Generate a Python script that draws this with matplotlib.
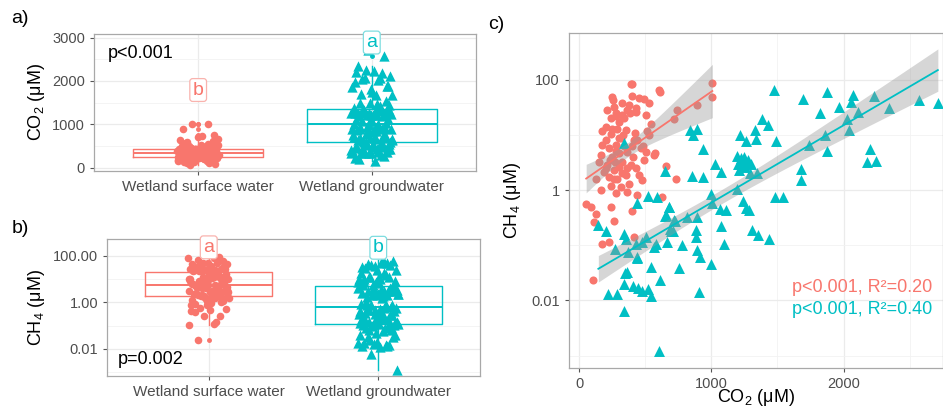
import numpy as np
import matplotlib
matplotlib.use("Agg")
import matplotlib.pyplot as plt
from matplotlib import cbook
from matplotlib.ticker import FixedLocator, NullFormatter

plt.rcParams['font.family'] = ['Liberation Sans', 'DejaVu Sans']
plt.rcParams['mathtext.fontset'] = 'custom'
plt.rcParams['mathtext.rm'] = 'Liberation Sans'
plt.rcParams['mathtext.default'] = 'regular'

RED = '#F8766D'
TEAL = '#00BFC4'

groups = ['Wetland surface water', 'Wetland groundwater']

# wetland surface water samples (CO2 uM, CH4 uM)
sw_co2 = [389, 399, 603, 610, 250, 256, 401, 452, 489, 527, 376, 363, 427, 212, 275, 326,
          742, 717, 893, 1007, 1007,
          654, 735, 565, 477, 439, 628,
          237, 280, 300, 338, 380,
          174, 200, 237, 288, 313, 275, 225, 174, 162, 250, 300, 326, 363, 401, 422, 439,
          464, 502, 490, 212, 263, 300, 351, 288, 225, 187, 237, 313, 376, 427, 452, 389,
          363, 275, 162, 124, 149, 200, 263, 326, 427, 502, 540, 351, 527,
          510, 573, 483, 414, 396, 414,
          52, 86, 238, 124, 111, 263, 174, 225, 104,
          250, 300, 340, 270, 320, 230, 360, 280, 200, 410, 330, 260]
sw_ch4 = [85, 85, 66, 60, 48, 43, 50, 46, 44, 38, 35, 28, 26, 28, 25, 23,
          28, 19, 35, 87, 49,
          2.7, 1.6, 4.3, 1.5, 0.81, 0.76,
          20, 22, 17, 20, 25,
          11.5, 8.1, 10.2, 13, 8.7, 6.5, 5.8, 6.5, 4.3, 4.0, 4.6, 3.2, 4.9, 6.3, 11, 8.1,
          5.8, 4.9, 3.5, 2.8, 2.3, 2.6, 1.9, 1.6, 1.7, 2.1, 1.2, 1.15, 1.3, 2.5, 1.9, 2.8,
          0.93, 0.87, 1.0, 1.6, 3.2, 14, 32, 37, 30, 23, 16, 12, 10,
          11.5, 4.6, 6.2, 8.1, 0.41, 0.14,
          0.56, 0.50, 0.49, 0.37, 0.26, 0.27, 0.105, 0.115, 0.023,
          12.6, 8.9, 6.3, 3.2, 2.0, 3.5, 2.5, 5.0, 2.5, 4.0, 10, 1.6]

# wetland groundwater samples (CO2 uM, CH4 uM)
gw_co2 = [341,
          1477, 1691, 1875, 1824, 1965, 2070, 2058, 2112, 2228, 2341, 2569, 2714,
          1860, 2024, 2040, 1873, 1736, 2200, 2178, 2248, 1676, 1681, 1481, 1540, 1492,
          1385, 1425, 1327, 1337, 1216, 1260,
          1196, 1225, 1250, 1205, 1262, 1300, 1210, 1255, 1343, 1290, 1230, 1275,
          1197, 1242, 1262, 1287, 1305, 1355, 1438,
          838, 863, 894, 939, 649, 851, 934, 1027, 1073, 997, 523, 591, 440, 682, 649,
          725, 813, 888, 1007, 1068, 1112, 1070, 1092, 686, 780, 884, 880, 894, 913,
          995, 757, 908, 609, 540, 540, 447, 477, 522, 404, 434, 346, 360, 338, 220,
          288, 341, 603, 144, 200, 273, 338, 356, 371, 439, 427, 472, 502, 565, 583,
          661, 654, 679, 717, 692, 709]
gw_ch4 = [7.2,
          66, 45, 59, 25, 32, 52, 40, 26, 50, 30, 42, 38,
          10, 19, 12, 5.1, 6.6, 5.6, 3.2, 3.3, 2.4, 1.5, 0.74, 0.74, 7.6,
          19, 15, 12, 8.3, 10, 7.6,
          4.2, 3.8, 4.0, 3.0, 3.1, 3.0, 2.3, 2.6, 2.0, 2.0, 3.3, 3.5,
          1.05, 0.62, 0.48, 0.43, 0.19, 0.15, 0.13,
          12, 10, 13, 5.6, 2.2, 1.8, 1.7, 3.0, 2.1, 0.85, 0.78, 0.76, 0.58, 0.50, 0.34,
          0.28, 0.33, 0.33, 0.59, 0.46, 0.43, 0.22, 0.105, 0.20, 0.10, 0.14, 0.19, 0.081, 0.062,
          0.046, 0.038, 0.014, 0.023, 0.040, 0.012, 0.017, 0.015, 0.016, 0.018, 0.058, 0.032, 0.033, 0.020, 0.013,
          0.013, 0.0063, 0.0012, 0.23, 0.18, 0.085, 0.16, 0.13, 0.076, 0.062, 0.107, 0.115, 0.14, 0.093, 0.107,
          0.115, 0.35, 0.49, 0.29, 0.18, 0.18]

letters_co2 = ['b', 'a']
letters_ch4 = ['a', 'b']
letter_y_co2 = [1790, 2885]
letter_y_ch4 = [235, 225]
fit_text = ['p<0.001, R²=0.20', 'p<0.001, R²=0.40']

colors = [RED, TEAL]
light = ['#F9B3AE', '#7FDDE0']
markers = ['o', '^']


def jitter(n, width=0.12):
    # fixed spread of points around the category centre
    return (((np.arange(n) * 0.618034) % 1.0) - 0.5) * 2 * width


def style(ax):
    for s in ax.spines.values():
        s.set_color('#A8A8A8')
        s.set_linewidth(0.9)
    ax.grid(which='major', color='#EBEBEB', lw=0.9)
    ax.grid(which='minor', color='#F2F2F2', lw=0.6)
    ax.set_axisbelow(True)
    ax.tick_params(which='major', length=3, color='#555555', labelcolor='#4D4D4D', labelsize=10.5)
    ax.tick_params(which='minor', length=0)


def box(ax, pos, data, col, log=False):
    vals = np.log10(data) if log else np.asarray(data, float)
    st = cbook.boxplot_stats(vals, whis=1.5)[0]
    if log:
        for k in ['med', 'q1', 'q3', 'whislo', 'whishi', 'mean', 'cilo', 'cihi']:
            st[k] = 10 ** st[k]
        st['fliers'] = 10 ** st['fliers']
    ax.bxp([st], positions=[pos], widths=0.75, showfliers=True,
           boxprops=dict(color=col, lw=1.0), medianprops=dict(color=col, lw=1.4),
           whiskerprops=dict(color=col, lw=1.0), capprops=dict(lw=0),
           flierprops=dict(marker='o', markersize=2.5, markerfacecolor=col, markeredgecolor=col),
           zorder=2)


def fit_band(x, y):
    x = np.asarray(x, float)
    ly = np.log10(y)
    b, a = np.polyfit(x, ly, 1)
    n = len(x)
    s = np.sqrt(np.sum((ly - (a + b * x)) ** 2) / (n - 2))
    xs = np.linspace(x.min(), x.max(), 100)
    f = a + b * xs
    se = s * np.sqrt(1 / n + (xs - x.mean()) ** 2 / np.sum((x - x.mean()) ** 2))
    return xs, 10 ** f, 10 ** (f - 1.98 * se), 10 ** (f + 1.98 * se)


fig = plt.figure(figsize=(9.43, 4.08), dpi=100)
axa = fig.add_axes([0.0997, 0.581, 0.405, 0.336])
axb = fig.add_axes([0.1135, 0.0784, 0.3955, 0.336])
axc = fig.add_axes([0.6034, 0.098, 0.3966, 0.821])

co2 = [sw_co2, gw_co2]
ch4 = [sw_ch4, gw_ch4]
sizes_ab = [30, 55]

# a) CO2 boxplot
style(axa)
for i in range(2):
    box(axa, i + 1, co2[i], colors[i])
    axa.scatter(i + 1 + jitter(len(co2[i])), co2[i], s=sizes_ab[i], marker=markers[i],
                color=colors[i], linewidths=0, zorder=3)
    axa.text(i + 1, letter_y_co2[i], letters_co2[i], color=colors[i], ha='center', va='center',
             fontsize=14, zorder=6,
             bbox=dict(boxstyle='round,pad=0.15', fc='white', ec=light[i], lw=0.9))
axa.set_xlim(0.4, 2.6)
axa.set_ylim(-76, 3085)
axa.set_yticks([0, 1000, 2000, 3000])
axa.set_yticks([500, 1500, 2500], minor=True)
axa.set_xticks([1, 2])
axa.set_xticklabels(groups, fontsize=11)
axa.set_ylabel(r'$CO_2$ (μM)', fontsize=13, labelpad=4)
axa.text(0.037, 0.86, 'p<0.001', transform=axa.transAxes, fontsize=13, va='center')

# b) CH4 boxplot
style(axb)
axb.set_yscale('log')
for i in range(2):
    box(axb, i + 1, ch4[i], colors[i], log=True)
    axb.scatter(i + 1 + jitter(len(ch4[i])), ch4[i], s=sizes_ab[i], marker=markers[i],
                color=colors[i], linewidths=0, zorder=3)
    axb.text(i + 1, letter_y_ch4[i], letters_ch4[i], color=colors[i], ha='center', va='center',
             fontsize=14, zorder=6,
             bbox=dict(boxstyle='round,pad=0.15', fc='white', ec=light[i], lw=0.9))
axb.set_xlim(0.4, 2.6)
axb.set_ylim(10 ** -3.17, 10 ** 2.733)
axb.yaxis.set_major_locator(FixedLocator([0.01, 1, 100]))
axb.yaxis.set_minor_locator(FixedLocator([0.001, 0.1, 10]))
axb.yaxis.set_minor_formatter(NullFormatter())
axb.set_yticklabels(['0.01', '1.00', '100.00'])
axb.set_xticks([1, 2])
axb.set_xticklabels(groups, fontsize=11)
axb.set_ylabel(r'$CH_4$ (μM)', fontsize=13, labelpad=4)
axb.text(0.03, 0.117, 'p=0.002', transform=axb.transAxes, fontsize=13, va='center')

# c) CH4 vs CO2
style(axc)
axc.set_yscale('log')
sizes_c = [34, 62]
for i in range(2):
    axc.scatter(co2[i], ch4[i], s=sizes_c[i], marker=markers[i], color=colors[i],
                linewidths=0, zorder=3)
for i in range(2):
    xs, f, lo, hi = fit_band(co2[i], ch4[i])
    axc.fill_between(xs, lo, hi, color='#999999', alpha=0.4, lw=0, zorder=4)
    axc.plot(xs, f, color=colors[i], lw=1.3, zorder=5)
    axc.text(2670, [10 ** -1.76, 10 ** -2.17][i], fit_text[i], color=colors[i],
             ha='right', va='center', fontsize=13, zorder=6)
axc.set_xlim(-78, 2753)
axc.set_ylim(10 ** -3.225, 10 ** 2.844)
axc.set_xticks([0, 1000, 2000])
axc.set_xticks([500, 1500, 2500], minor=True)
axc.yaxis.set_major_locator(FixedLocator([0.01, 1, 100]))
axc.yaxis.set_minor_locator(FixedLocator([0.001, 0.1, 10]))
axc.yaxis.set_minor_formatter(NullFormatter())
axc.set_yticklabels(['0.01', '1', '100'])
axc.set_xlabel(r'$CO_2$ (μM)', fontsize=13, labelpad=-3)
axc.set_ylabel(r'$CH_4$ (μM)', fontsize=13, labelpad=6)

fig.text(0.012, 0.955, 'a)', fontsize=14, va='center')
fig.text(0.012, 0.44, 'b)', fontsize=14, va='center')
fig.text(0.518, 0.94, 'c)', fontsize=14, va='center')

fig.savefig('out.png', dpi=100)
